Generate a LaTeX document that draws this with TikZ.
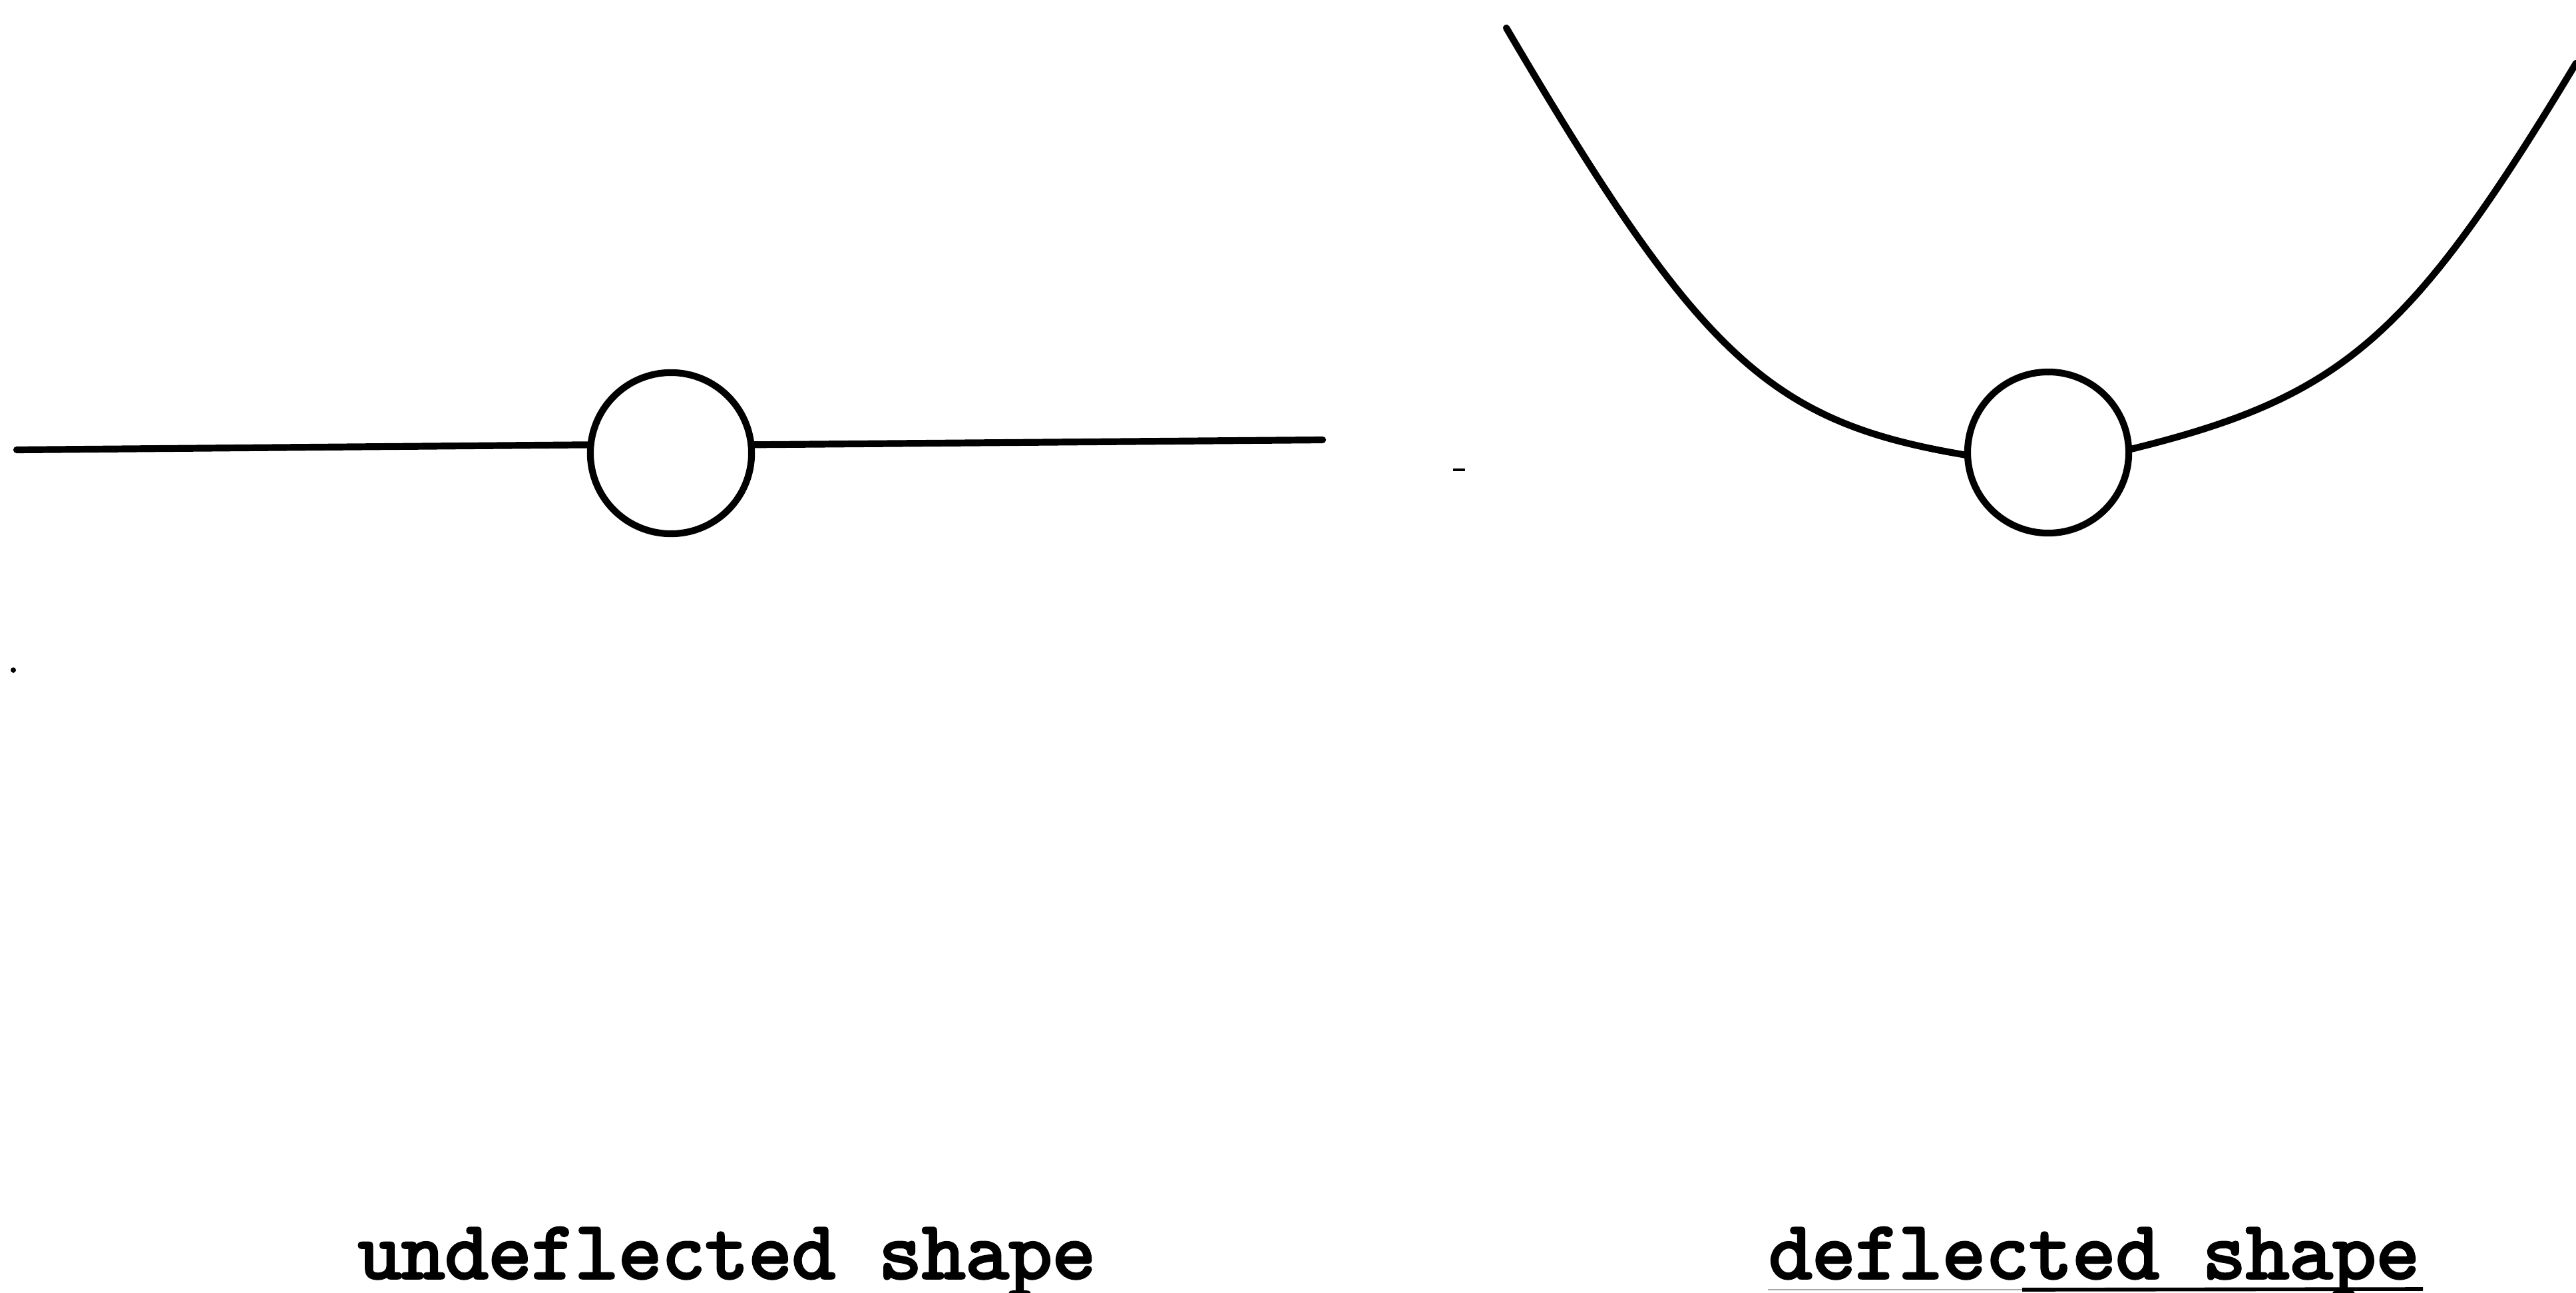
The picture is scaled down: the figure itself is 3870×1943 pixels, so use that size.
\documentclass[tikz,border=0pt]{standalone}
\usepackage{fontspec}
\newfontfamily\tw{lmmono10-regular.otf}[FakeBold=3]
\begin{document}
\begin{tikzpicture}[x=0.01cm,y=-0.01cm,
  wire/.style={line width=2.9pt,line cap=round,black},
  joint/.style={circle,draw,line width=2.9pt,minimum size=2.42cm,inner sep=0pt,outer sep=0pt},
  caption/.style={inner sep=0pt,anchor=base,font=\tw\bfseries\fontsize{35.3}{40}\selectfont}]
\useasboundingbox (0,0) rectangle (3870,1943);
% undeflected
\node[joint] (c1) at (1008,681) {};
\coordinate (l1) at (25,676);
\coordinate (r1) at (1987,661);
\draw[wire] (l1) -- (c1.174);
\draw[wire] (c1.6) -- (r1);
% deflected
\node[joint] (c2) at (3077,680) {};
\coordinate (l2) at (2263,42);
\coordinate (r2) at (3870,95);
\draw[wire] (l2) .. controls (2555,539) and (2659,635) .. (c2.182);
\draw[wire] (c2.2) .. controls (3519,597) and (3620,510) .. (r2);
% small marks
\coordinate (m1) at (20,1007);
\fill (m1) circle (4);
\coordinate (m2a) at (2183,706);
\coordinate (m2b) at (2201,706);
\draw[line width=1.2pt] (m2a) -- (m2b);
% captions
\node[caption] (t1) at (1092,1921) {undeflected shape};
\node[caption] (t2) at (3146,1921) {deflected shape};
\coordinate (u0) at (2656,1938);
\coordinate (u1) at (3038,1938);
\coordinate (u2) at (3640,1937);
\draw[line width=0.8pt,black!35] (u0) -- (u1);
\draw[line width=1.6pt] (u1) -- (u2);
\end{tikzpicture}
\end{document}
